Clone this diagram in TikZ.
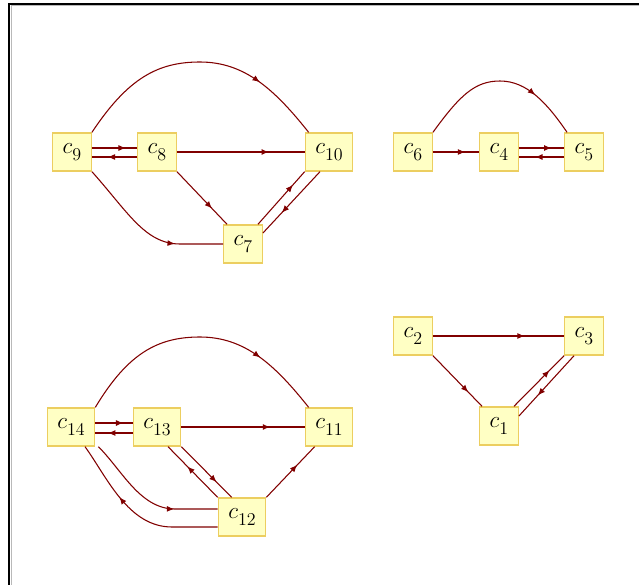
\documentclass[tikz,border=0pt]{standalone}
\usepackage{amsmath}
\usepackage{tikz}
\usetikzlibrary{arrows.meta}
\usetikzlibrary{calc}
\usetikzlibrary{decorations.markings}

\definecolor{linkred}{RGB}{128,0,0}
\definecolor{boxfill}{RGB}{255,255,196}
\definecolor{boxline}{RGB}{236,206,96}

\tikzset{
  vbox/.style={draw=boxline, fill=boxfill, line width=1pt, minimum height=28.5pt,
    inner xsep=7.5pt, inner ysep=0pt, font=\fontsize{17}{20}\selectfont},
  link/.style={color=linkred, line width=0.8pt},
  midarr/.style={postaction={decorate}, decoration={markings,
    mark=at position #1 with {\arrow{Latex[length=5.5pt,width=4.5pt]}}}},
}
\newcommand{\cv}[1]{$c$\raisebox{-5pt}{\fontsize{13.5}{14}\selectfont #1}}

\begin{document}
\begin{tikzpicture}[x=0.75pt,y=0.75pt,yscale=-1,xscale=1]
    \useasboundingbox (0,0) rectangle (639,585);

    %Frame
    \draw [gray!55, line width=0.75pt] (11,585) -- (11,6) -- (639,6) ;
    \draw [black, line width=1.5pt] (9,585) -- (9,4) -- (639,4) ;

    % Text Node
    \node [vbox] (c9) at (72,152) {\cv{9}};
    \node [vbox] (c8) at (157,152) {\cv{8}};
    \node [vbox] (c10) at (329,152) {\cv{10}};
    \node [vbox] (c7) at (243,244) {\cv{7}};
    % Text Node
    \node [vbox] (c6) at (413,152) {\cv{6}};
    \node [vbox] (c4) at (499,152) {\cv{4}};
    \node [vbox] (c5) at (584,152) {\cv{5}};
    % Text Node
    \node [vbox] (c14) at (71,427) {\cv{14}};
    \node [vbox] (c13) at (157,427) {\cv{13}};
    \node [vbox] (c11) at (329,427) {\cv{11}};
    \node [vbox] (c12) at (242,517) {\cv{12}};
    % Text Node
    \node [vbox] (c2) at (413,336) {\cv{2}};
    \node [vbox] (c3) at (584,336) {\cv{3}};
    \node [vbox] (c1) at (499,426) {\cv{1}};

    %Curve Lines
    \draw [link, midarr=0.74] (c9.north east) .. controls (128,78) and (158,62) .. (200,62) .. controls (245,62) and (275,90) .. ($(c10.north west)+(4,0)$) ;
    \draw [link, midarr=0.7] (c9.south east) .. controls (128,212) and (145,244) .. (180,244) -- (c7.west) ;
    %Straight Lines
    \draw [link, midarr=0.75] ($(c9.east)+(0,-4)$) -- ($(c8.west)+(0,-4)$) ;
    \draw [link, midarr=0.65] ($(c8.west)+(0,5)$) -- ($(c9.east)+(0,5)$) ;
    \draw [link, midarr=0.72] (c8.east) -- (c10.west) ;
    \draw [link, midarr=0.7] (c8.south east) -- ($(c7.north west)+(4,0)$) ;
    \draw [link, midarr=0.75] ($(c7.north east)+(-5,0)$) -- (c10.south west) ;
    \draw [link, midarr=0.67] ($(c10.south)+(-9,0)$) -- ($(c7.east)+(0,-11)$) ;

    %Curve Lines
    \draw [link, midarr=0.72] (c6.north east) .. controls (460,95) and (475,81) .. (500,81) .. controls (527,81) and (547,103) .. ($(c5.north west)+(3,0)$) ;
    %Straight Lines
    \draw [link, midarr=0.7] (c6.east) -- (c4.west) ;
    \draw [link, midarr=0.72] ($(c4.east)+(0,-4)$) -- ($(c5.west)+(0,-4)$) ;
    \draw [link, midarr=0.64] ($(c5.west)+(0,5)$) -- ($(c4.east)+(0,5)$) ;

    %Curve Lines
    \draw [link, midarr=0.74] (c14.north east) .. controls (128,353) and (158,337) .. (200,337) .. controls (245,337) and (275,365) .. ($(c11.north west)+(4,0)$) ;
    \draw [link, midarr=0.7] ($(c14.south east)+(3,0)$) .. controls (122,470) and (140,509) .. (175,509) -- ($(c12.west)+(0,-8)$) ;
    \draw [link, midarr=0.64] ($(c12.west)+(0,10)$) -- (172,527) .. controls (128,527) and (107,477) .. ($(c14.south)+(14,0)$) ;
    %Straight Lines
    \draw [link, midarr=0.75] ($(c14.east)+(0,-4)$) -- ($(c13.west)+(0,-4)$) ;
    \draw [link, midarr=0.66] ($(c13.west)+(0,6)$) -- ($(c14.east)+(0,6)$) ;
    \draw [link, midarr=0.72] (c13.east) -- (c11.west) ;
    \draw [link, midarr=0.61] (c12.north west) -- ($(c13.south)+(11,0)$) ;
    \draw [link, midarr=0.7] (c13.south east) -- ($(c12.north west)+(14,0)$) ;
    \draw [link, midarr=0.64] (c12.north east) -- ($(c11.south west)+(10,0)$) ;

    %Straight Lines
    \draw [link, midarr=0.7] (c2.east) -- (c3.west) ;
    \draw [link, midarr=0.72] (c2.south east) -- ($(c1.north west)+(3,0)$) ;
    \draw [link, midarr=0.71] ($(c1.north east)+(-5,0)$) -- (c3.south west) ;
    \draw [link, midarr=0.66] ($(c3.south west)+(10,0)$) -- ($(c1.east)+(0,-10)$) ;

\end{tikzpicture}
\end{document}
